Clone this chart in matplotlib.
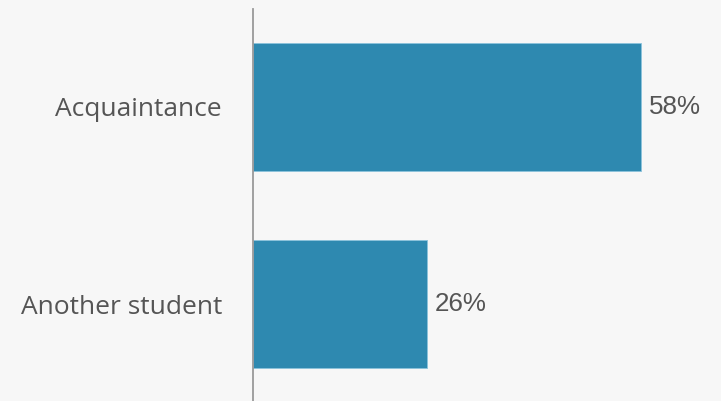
import matplotlib.pyplot as plt

categories = ['Acquaintance', 'Another student']
shares = [58, 26]

bg = '#f7f7f7'
bar_color = '#2e89b0'
text_color = '#555555'

fig = plt.figure(figsize=(7.21, 4.01), dpi=100, facecolor=bg)
# axes placed so the vertical axis sits at x=253px and runs off the bottom edge
ax = fig.add_axes([253 / 721, -1.5 / 401, 468 / 721, 394 / 401])
ax.set_facecolor(bg)

pos = range(len(categories))
ax.barh(pos, shares, height=0.65, color=bar_color,
        edgecolor='#8cc3dc', linewidth=0.6)

for i, v in zip(pos, shares):
    ax.annotate(f'{v}%', xy=(v, i), xytext=(5.8, 0), textcoords='offset points',
                ha='left', va='center', fontsize=18.7, color=text_color,
                family='Liberation Sans')

ax.set_xlim(0, 70)
ax.set_ylim(1.5, -0.5)

ax.set_yticks(list(pos))
ax.set_yticklabels(categories, family='Open Sans', fontsize=19, color=text_color)
ax.tick_params(axis='y', length=0, pad=22.3)
ax.set_xticks([])

for side in ['top', 'right', 'bottom']:
    ax.spines[side].set_visible(False)
ax.spines['left'].set_color('#999999')
ax.spines['left'].set_linewidth(1.3)

fig.savefig('out.png', dpi=100, facecolor=bg)
